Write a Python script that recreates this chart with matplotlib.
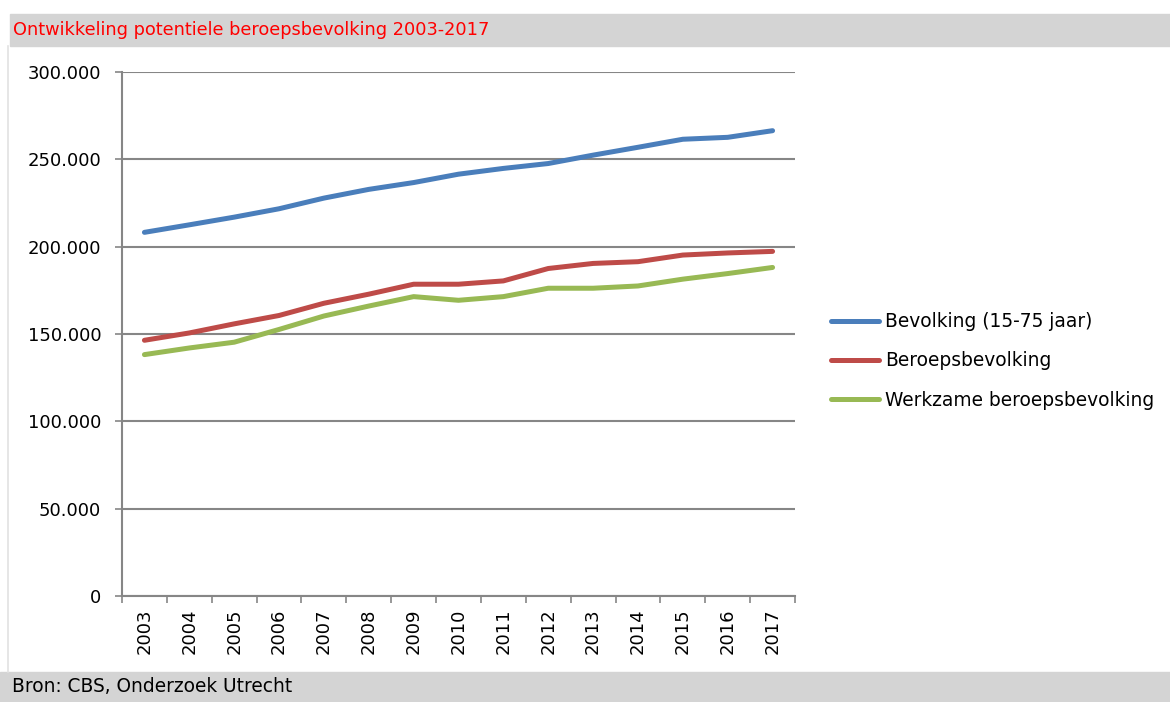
import matplotlib
matplotlib.use("Agg")
import matplotlib.pyplot as plt
from matplotlib.patches import Rectangle
from matplotlib.lines import Line2D
from matplotlib.ticker import FuncFormatter, FixedLocator
import numpy as np

# data
years = [str(y) for y in range(2003, 2018)]
bevolking = [208200, 212500, 216900, 221700, 227800, 232800, 236700, 241500,
             244800, 247600, 252400, 256900, 261500, 262600, 266400]
beroepsbevolking = [146400, 150600, 155800, 160600, 167600, 172800, 178500, 178500,
                    180400, 187500, 190400, 191400, 195200, 196400, 197300]
werkzaam = [138200, 142000, 145300, 152600, 160300, 166000, 171400, 169300,
            171400, 176200, 176200, 177500, 181400, 184600, 188100]
series_names = ["Bevolking (15-75 jaar)", "Beroepsbevolking", "Werkzame beroepsbevolking"]
series_colors = ["#4A7EBB", "#BE4B48", "#98B954"]

title = "Ontwikkeling potentiele beroepsbevolking 2003-2017"
source = "Bron: CBS, Onderzoek Utrecht"

W, H = 1170, 702
fig = plt.figure(figsize=(W / 100, H / 100), dpi=100)
plt.rcParams["font.family"] = ["DejaVu Sans"]

# grey title and source bars
fig.patches.append(Rectangle((10 / W, 1 - 46 / H), 1 - 10 / W, 32 / H,
                             transform=fig.transFigure, color="#D4D4D4", zorder=0))
fig.patches.append(Rectangle((0, 0), 1, 30 / H,
                             transform=fig.transFigure, color="#D4D4D4", zorder=0))
fig.lines.append(Line2D([8 / W, 8 / W], [30 / H, 1 - 46 / H],
                        transform=fig.transFigure, color="#E2E2E2", lw=1.2))
fig.text(13 / W, 1 - 30 / H, title, color="#FF0000", fontsize=12.75, va="center")
fig.text(12 / W, 15 / H, source, color="#000000", fontsize=13.4, va="center")

ax = fig.add_axes([122 / W, 1 - 596 / H, (795 - 122) / W, (596 - 72) / H])
x = np.arange(len(years)) + 0.5
for vals, name, col in zip([bevolking, beroepsbevolking, werkzaam], series_names, series_colors):
    ax.plot(x, vals, color=col, lw=3.6, label=name, solid_capstyle="round", zorder=3)

ax.set_xlim(0, len(years))
ax.set_ylim(0, 300000)
ax.yaxis.set_major_locator(FixedLocator(np.arange(0, 300001, 50000)))
ax.yaxis.set_major_formatter(FuncFormatter(lambda v, p: f"{int(v):,}".replace(",", ".")))
ax.grid(axis="y", color="#868686", lw=1.5, zorder=1)
ax.set_axisbelow(True)

ax.set_xticks(np.arange(len(years) + 1))
ax.set_xticklabels([])
ax.set_xticks(x, minor=True)
ax.set_xticklabels(years, minor=True, rotation=90, fontsize=13)
ax.tick_params(axis="x", which="minor", length=0, pad=9)
ax.tick_params(axis="x", which="major", length=5, width=1.2, color="#868686", direction="out")
ax.tick_params(axis="y", length=5, width=1.2, color="#868686", labelsize=13, pad=10)

for s in ["top", "right"]:
    ax.spines[s].set_visible(False)
for s in ["left", "bottom"]:
    ax.spines[s].set_color("#868686")
    ax.spines[s].set_linewidth(1.5)

handles, labels = ax.get_legend_handles_labels()
fig.legend(handles, labels, loc="center left", bbox_to_anchor=(814 / W, 1 - 361 / H),
           frameon=False, fontsize=13.4, handlelength=2.6, handletextpad=0.3,
           labelspacing=1.1)

fig.savefig("out.png", dpi=100)
